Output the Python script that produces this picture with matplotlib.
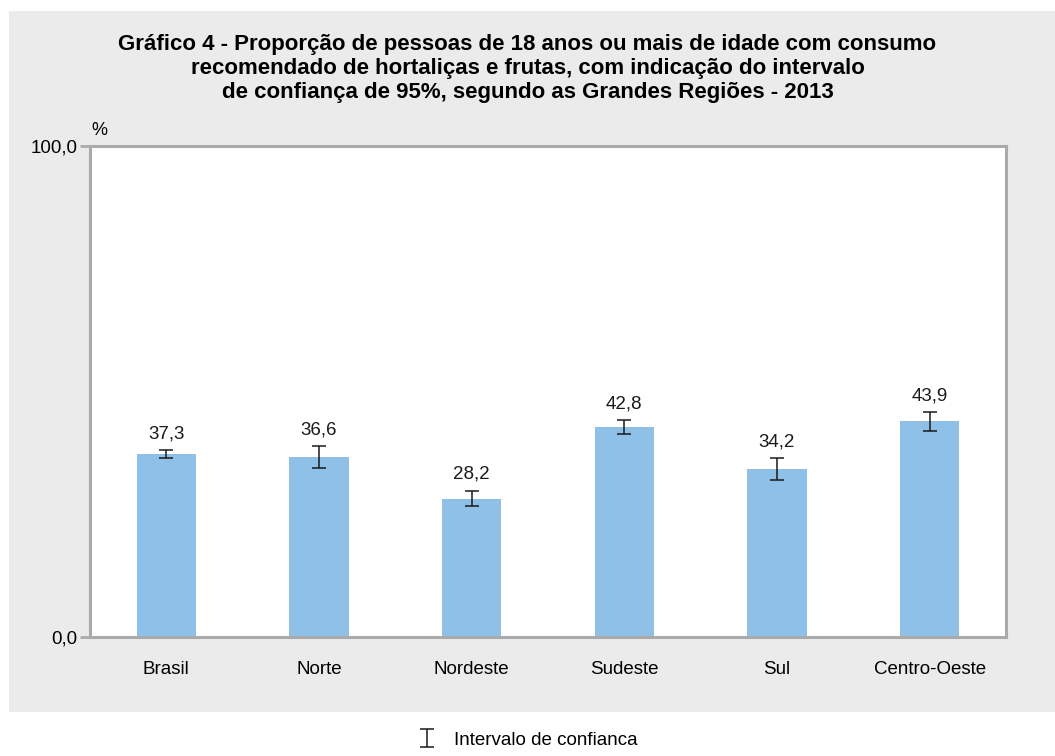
import matplotlib.pyplot as plt
import matplotlib.patches as mpatches
import numpy as np

plt.rcParams['font.family'] = ['Liberation Sans', 'DejaVu Sans']

# data
regioes = ['Brasil', 'Norte', 'Nordeste', 'Sudeste', 'Sul', 'Centro-Oeste']
valores = [37.3, 36.6, 28.2, 42.8, 34.2, 43.9]
ic_inf = [36.5, 34.4, 26.6, 41.4, 32.0, 42.0]
ic_sup = [38.1, 38.8, 29.8, 44.2, 36.4, 45.8]

titulo = ('Gráfico 4 - Proporção de pessoas de 18 anos ou mais de idade com consumo\n'
          'recomendado de hortaliças e frutas, com indicação do intervalo\n'
          'de confiança de 95%, segundo as Grandes Regiões - 2013')

fig = plt.figure(figsize=(10.55, 7.56), dpi=100)
fig.patch.set_facecolor('white')
# grey panel behind the chart
fig.patches.append(mpatches.Rectangle((9 / 1055, (756 - 712) / 756), 1 - 9 / 1055,
                                      (712 - 11) / 756, transform=fig.transFigure,
                                      facecolor='#ebebeb', edgecolor='none', zorder=-5))

ax = fig.add_axes([90 / 1055, (756 - 637) / 756, (1006 - 90) / 1055, (637 - 146) / 756])
ax.set_zorder(2)
ax.set_facecolor('white')

x = np.arange(len(regioes))
ax.bar(x, valores, width=0.39, color='#8fc0e7', zorder=2)
err = [np.array(valores) - np.array(ic_inf), np.array(ic_sup) - np.array(valores)]
ax.errorbar(x, valores, yerr=err, fmt='none', ecolor='#1a1a1a', elinewidth=1.1,
            capsize=5, capthick=1.1, zorder=3, label='Intervalo de confianca')

for xi, v, s in zip(x, valores, ic_sup):
    ax.text(xi, s + 1.6, f'{v:.1f}'.replace('.', ','), ha='center', va='bottom',
            fontsize=13.5, color='#1a1a1a')

ax.set_xlim(-0.5, len(regioes) - 0.5)
ax.set_ylim(0, 100)
ax.set_yticks([0, 100])
ax.set_yticklabels(['0,0', '100,0'], fontsize=13.5)
ax.set_xticks(x)
ax.set_xticklabels(regioes, fontsize=13.5)
ax.tick_params(axis='x', length=0, pad=17)
ax.tick_params(axis='y', length=7, width=2, color='#aaaaaa', pad=2)
for sp in ax.spines.values():
    sp.set_color('#aaaaaa')
    sp.set_linewidth(2.2)

ax.text(0.01, 1.015, '%', transform=ax.transAxes, ha='center', va='bottom', fontsize=13)

fig.text(0.5, 1 - 34 / 756, titulo, ha='center', va='top', fontsize=16,
         fontweight='bold', linespacing=1.2)

fig.legend(loc='center', bbox_to_anchor=(0.5, 1 - 740 / 756), frameon=False,
           fontsize=13.5, handlelength=1.0, handletextpad=0.9)

fig.savefig('out.png', dpi=100, facecolor=fig.get_facecolor())
